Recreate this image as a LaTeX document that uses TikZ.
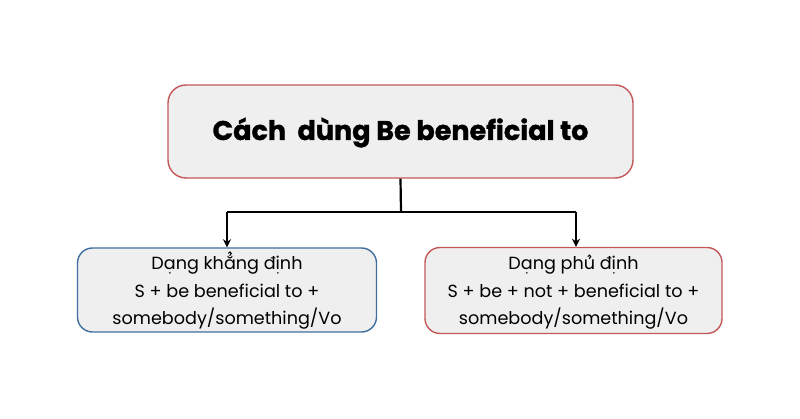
\documentclass[tikz,border=0pt]{standalone}
\usepackage{fontspec}
\setmainfont{Poppins}
\usetikzlibrary{arrows.meta}
\definecolor{boxfill}{RGB}{239,239,240}
\definecolor{redline}{RGB}{196,88,88}
\definecolor{blueline}{RGB}{64,110,158}
\newcommand\hookacc{\tikz[baseline=0pt,x=1em,y=1em,sharp corners]{\draw[black,line width=0.06em,line cap=round,sharp corners] (-0.075,0.17) .. controls (-0.06,0.27) and (0.1,0.27) .. (0.085,0.16) .. controls (0.075,0.1) and (0,0.1) .. (0,0.04);}}
\newcommand\dotacc{\tikz[baseline=0pt,x=1em,y=1em,sharp corners]{\fill[black] (0,-0.16) circle[radius=0.05];}}
\newcommand\hk[2]{\ooalign{#1\cr\hidewidth\raisebox{#2}{\hookacc}\hidewidth\cr}}
\newcommand\dotb[1]{\ooalign{#1\cr\hidewidth\dotacc\hidewidth\cr}}
\begin{document}
\begin{tikzpicture}[x=1pt,y=-1pt,
  box/.style={draw, fill=boxfill, rounded corners=18pt, line width=1.4pt, inner sep=0pt},
  txt/.style={align=center, inner sep=0pt, font=\fontsize{17.6}{27.5}\selectfont},
  conn/.style={line width=2.2pt, black},
  arr/.style={conn, -{Stealth[length=8pt,width=8pt]}}]
\useasboundingbox (0,0) rectangle (800,419);
\fill[white] (0,0) rectangle (800,419);
\node[box, draw=redline, minimum width=465pt, minimum height=93pt] (top) at (400.5,131.5) {};
\node[anchor=base, inner sep=0pt, font=\fontsize{27}{32}\selectfont\bfseries\addfontfeatures{FakeBold=1.2}] (toptext) at (400.5,140) {Cách\ \ dùng Be beneficial to};
\node[box, draw=blueline, rounded corners=15pt, minimum width=299pt, minimum height=84pt] (left) at (227,290) {};
\node[txt, anchor=base] (lefttext) at (227,325) {D\dotb{a}ng kh\hk{ă}{0.78em}ng đ\dotb{i}nh\\S + be beneficial to +\\somebody/something/Vo};
\node[box, draw=redline, rounded corners=15pt, minimum width=297pt, minimum height=86pt] (right) at (573.5,290.5) {};
\node[txt, anchor=base] (righttext) at (573.5,325) {D\dotb{a}ng ph\hk{u}{0.6em} đ\dotb{i}nh\\S + be + not + beneficial to +\\somebody/something/Vo};
\coordinate (j) at (401,212);
\coordinate (jl) at (227,212);
\coordinate (jr) at (576,212);
\draw[conn] (top.south) -- (j);
\draw[conn] (jl) -- (jr);
\draw[arr] (jl) -- (jl |- left.north);
\draw[arr] (jr) -- (jr |- right.north);
\end{tikzpicture}
\end{document}
